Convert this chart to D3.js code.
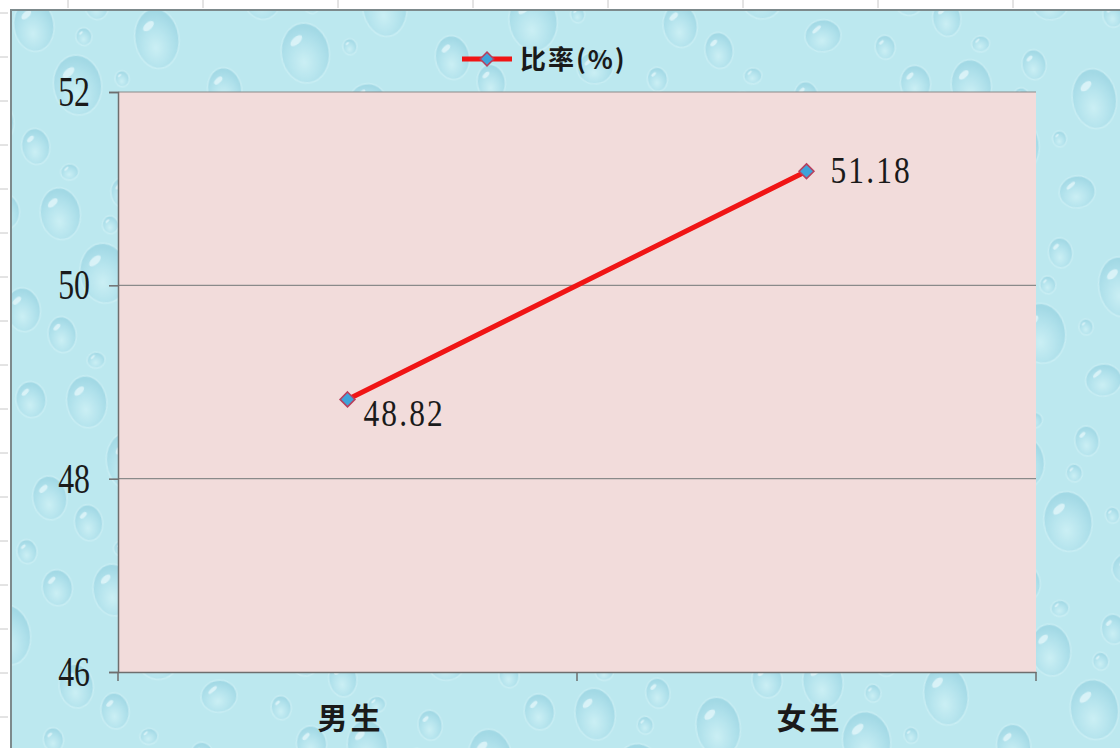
<!DOCTYPE html>
<html><head><meta charset="utf-8">
<script src="https://cdn.jsdelivr.net/npm/d3@7"></script>
<style>html,body{margin:0;padding:0;background:#fff;overflow:hidden}</style>
</head><body>
<svg id="c" width="1120" height="748"></svg>
<script>
const categories = ["男生", "女生"];
const values = [48.82, 51.18];
const seriesName = "比率(%)";
const yTicks = [46, 48, 50, 52];
const yDomain = [46, 52];

const svg = d3.select("#c");
const W = 1120, H = 748;
const plot = {x0: 118, x1: 1036, y0: 92, y1: 672};

// texture defs (decorative water drops)
const defs = svg.append("defs");
const dg = defs.append("radialGradient").attr("id","drop").attr("cx","45%").attr("cy","65%").attr("r","60%");
dg.append("stop").attr("offset","0%").attr("stop-color","#d6f4f8");
dg.append("stop").attr("offset","65%").attr("stop-color","#a6dbe8");
dg.append("stop").attr("offset","100%").attr("stop-color","#8ccbdc");
const pat = defs.append("pattern").attr("id","water").attr("patternUnits","userSpaceOnUse")
  .attr("width",230).attr("height",190).attr("patternTransform","rotate(-8)");
pat.append("rect").attr("width",230).attr("height",190).attr("fill","#bce8ef");
const drops = [
  {cx:30,cy:30,rx:20,ry:26},{cx:95,cy:18,rx:12,ry:15},{cx:150,cy:60,rx:22,ry:30},
  {cx:65,cy:95,rx:24,ry:30},{cx:15,cy:150,rx:14,ry:18},{cx:120,cy:150,rx:18,ry:16},
  {cx:78,cy:48,rx:8,ry:9},{cx:205,cy:20,rx:15,ry:18},{cx:210,cy:120,rx:17,ry:22},
  {cx:180,cy:170,rx:10,ry:12},{cx:110,cy:95,rx:7,ry:8},{cx:45,cy:180,rx:9,ry:8}
];
drops.forEach(d=>{
  pat.append("ellipse").attr("cx",d.cx).attr("cy",d.cy).attr("rx",d.rx).attr("ry",d.ry)
    .attr("fill","url(#drop)").attr("opacity",0.55).attr("stroke","#e8fbfd").attr("stroke-width",1.5).attr("stroke-opacity",0.6);
  pat.append("ellipse").attr("cx",d.cx-d.rx*0.3).attr("cy",d.cy-d.ry*0.45).attr("rx",d.rx*0.3).attr("ry",d.ry*0.12)
    .attr("fill","#f4feff").attr("opacity",0.6)
    .attr("transform",`rotate(-35,${d.cx-d.rx*0.3},${d.cy-d.ry*0.45})`);
});

// outer ruler ticks
svg.append("g").selectAll("line").data(d3.range(13, H, 44)).join("line")
  .attr("x1",0).attr("x2",8).attr("y1",d=>d).attr("y2",d=>d).attr("stroke","#c8c8c8");
svg.append("g").selectAll("line").data(d3.range(68, W, 135)).join("line")
  .attr("y1",0).attr("y2",8).attr("x1",d=>d).attr("x2",d=>d).attr("stroke","#c8c8c8");

// chart area
svg.append("rect").attr("x",11).attr("y",10).attr("width",W).attr("height",H)
  .attr("fill","url(#water)").attr("stroke","#7d8a8c").attr("stroke-width",2);

// scales
const x = d3.scaleBand().domain(categories).range([plot.x0, plot.x1]).padding(0);
const y = d3.scaleLinear().domain(yDomain).range([plot.y1, plot.y0]);

svg.append("rect").attr("x",plot.x0).attr("y",plot.y0).attr("width",plot.x1-plot.x0).attr("height",plot.y1-plot.y0)
  .attr("fill","#f2dcdb");

// gridlines
svg.append("g").selectAll("line").data(yTicks.filter(t=>t!==yDomain[0])).join("line")
  .attr("x1",plot.x0).attr("x2",plot.x1).attr("y1",d=>y(d)).attr("y2",d=>y(d))
  .attr("stroke","#8a8a8a").attr("stroke-width",1.2);

// y axis
const yAxis = svg.append("g").attr("transform",`translate(${plot.x0},0)`)
  .call(d3.axisLeft(y).tickValues(yTicks).tickSize(9).tickFormat(d3.format("d")));
yAxis.select(".domain").attr("stroke","#6e6e6e").attr("stroke-width",1.5);
yAxis.selectAll(".tick line").attr("stroke","#6e6e6e").attr("stroke-width",1.5);
yAxis.selectAll(".tick text").remove();
svg.append("g").selectAll("text").data(yTicks).join("text")
  .attr("transform",d=>`translate(90,${y(d)+14}) scale(0.74,1)`)
  .attr("text-anchor","end").attr("font-family","Liberation Serif").attr("font-size",43).attr("fill","#1a1a1a")
  .text(d=>d);

// x axis
const xAxis = svg.append("g").attr("transform",`translate(0,${plot.y1})`)
  .call(d3.axisBottom(x).tickSize(0).tickFormat(""));
xAxis.select(".domain").attr("stroke","#6e6e6e").attr("stroke-width",1.5);
svg.append("g").selectAll("line").data([plot.x0, plot.x0 + x.bandwidth(), plot.x1]).join("line")
  .attr("x1",d=>d).attr("x2",d=>d).attr("y1",plot.y1).attr("y2",plot.y1+9)
  .attr("stroke","#6e6e6e").attr("stroke-width",1.5);
svg.append("g").selectAll("text").data(categories).join("text")
  .attr("x",d=>x(d)+x.bandwidth()/2+3).attr("y",729)
  .attr("text-anchor","middle").attr("font-family","Noto Sans CJK SC").attr("font-weight","bold")
  .attr("font-size",30).attr("letter-spacing",3).attr("fill","#1a1a1a").text(d=>d);

// line
const pts = categories.map((c,i)=>({c, v:values[i]}));
const lineColor = "#f01515";
svg.append("path").datum(pts)
  .attr("d", d3.line().x(d=>x(d.c)+x.bandwidth()/2).y(d=>y(d.v)))
  .attr("fill","none").attr("stroke",lineColor).attr("stroke-width",5).attr("stroke-linecap","round");

const diamond = d3.symbol().type(d3.symbolDiamond2).size(140);
svg.append("g").selectAll("path").data(pts).join("path")
  .attr("d", diamond)
  .attr("transform",d=>`translate(${x(d.c)+x.bandwidth()/2},${y(d.v)})`)
  .attr("fill","#3ea3d9").attr("stroke","#b8405e").attr("stroke-width",1.6);

// data labels
const labelOffsets = [[16,27],[24,12]];
svg.append("g").selectAll("text").data(pts).join("text")
  .attr("transform",(d,i)=>`translate(${x(d.c)+x.bandwidth()/2+labelOffsets[i][0]},${y(d.v)+labelOffsets[i][1]}) scale(0.85,1)`)
  .attr("font-family","Liberation Serif").attr("font-size",37).attr("letter-spacing",2.5).attr("fill","#1a1a1a")
  .text(d=>d.v.toFixed(2));

// legend
const lg = svg.append("g");
lg.append("line").attr("x1",462).attr("x2",512).attr("y1",59).attr("y2",59).attr("stroke",lineColor).attr("stroke-width",5);
lg.append("path").attr("d", d3.symbol().type(d3.symbolDiamond2).size(120)).attr("transform","translate(487,59)")
  .attr("fill","#3ea3d9").attr("stroke","#b8405e").attr("stroke-width",1.5);
lg.append("text").attr("x",520).attr("y",69).attr("font-family","Noto Sans CJK SC").attr("font-weight","bold")
  .attr("font-size",26).attr("fill","#1a1a1a").attr("letter-spacing",2).text(seriesName);
</script>
</body></html>
